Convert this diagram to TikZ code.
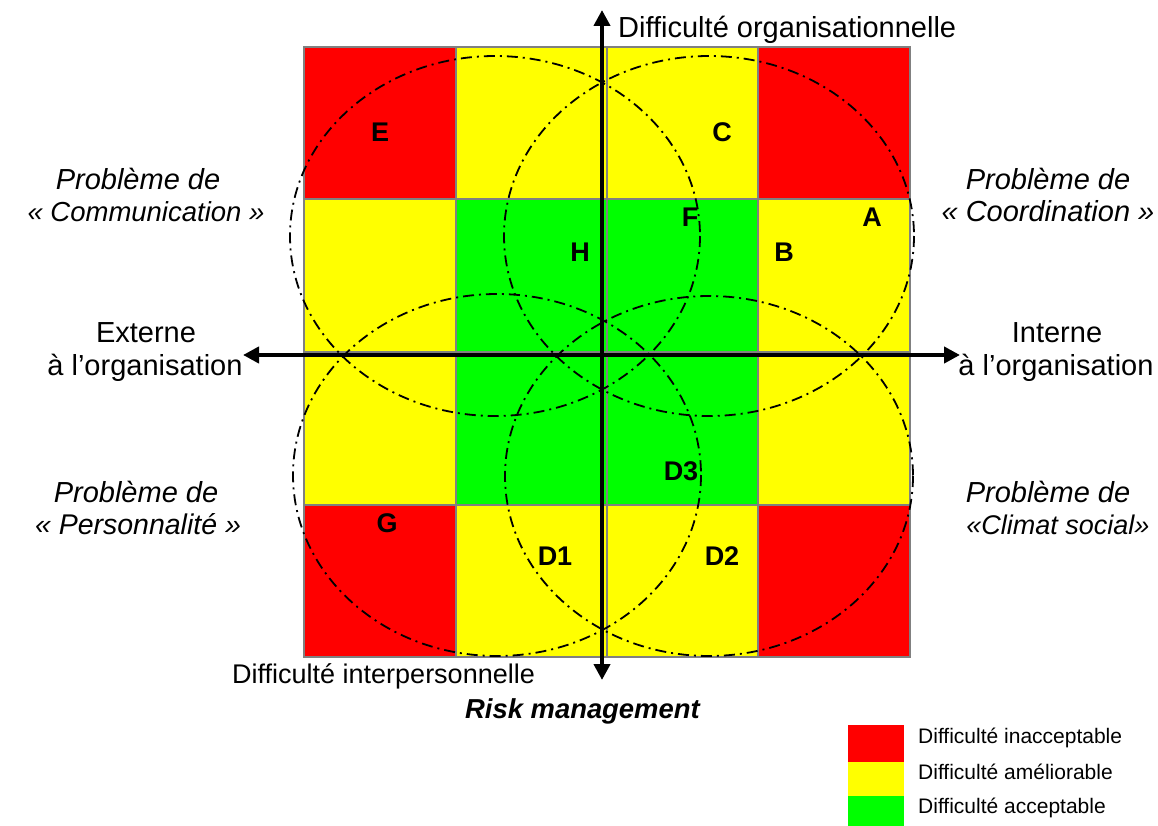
\documentclass[tikz,border=0pt]{standalone}
\usepackage{fontspec}
\setmainfont{Liberation Sans}
\usetikzlibrary{arrows.meta}
\definecolor{cred}{RGB}{255,0,0}
\definecolor{cyel}{RGB}{255,255,0}
\definecolor{cgrn}{RGB}{0,255,0}
\definecolor{gridgray}{RGB}{128,128,128}
\begin{document}
\begin{tikzpicture}[x=1pt,y=-1pt,
  cell/.style={draw=gridgray,line width=2pt},
  zone/.style={line width=1.8pt,dash pattern=on 11pt off 5pt on 2pt off 5pt},
  axis/.style={line width=4pt,{Triangle[length=16pt,width=16pt]}-{Triangle[length=16pt,width=16pt]}},
  lbl/.style={font=\fontsize{29}{33}\selectfont,inner sep=0pt,anchor=base},
  problem/.style={font=\fontsize{29}{33}\selectfont\itshape,inner sep=0pt,anchor=base},
  letter/.style={font=\fontsize{27}{30}\selectfont\bfseries,inner sep=0pt},
  legtext/.style={font=\fontsize{21}{24}\selectfont,inner sep=0pt,anchor=base west}
]
\useasboundingbox (0,0) rectangle (1158,826);

% risk grid: 4 x 4 coloured cells
\foreach \ya/\yb/\ca/\cb/\cc/\cd in {
    47/199/cred/cyel/cyel/cred,
    199/352/cyel/cgrn/cgrn/cyel,
    352/505/cyel/cgrn/cgrn/cyel,
    505/657/cred/cyel/cyel/cred}{
  \filldraw[cell,fill=\ca] (304,\ya) rectangle (456,\yb);
  \filldraw[cell,fill=\cb] (456,\ya) rectangle (607,\yb);
  \filldraw[cell,fill=\cc] (607,\ya) rectangle (758,\yb);
  \filldraw[cell,fill=\cd] (758,\ya) rectangle (910,\yb);
}

% the four problem zones
\draw[zone] (495,236) ellipse [x radius=205, y radius=180];
\draw[zone] (709,236) ellipse [x radius=205, y radius=180];
\draw[zone] (497,475) ellipse [x radius=204, y radius=181];
\draw[zone] (709,476) ellipse [x radius=204, y radius=180];

% axes
\coordinate (vtop) at (602,10);
\coordinate (vbot) at (602,680);
\coordinate (hleft) at (243,355);
\coordinate (hright) at (960,355);
\draw[axis] (vbot) -- (vtop);
\draw[axis] (hleft) -- (hright);

% axis captions
\node[lbl,anchor=base west] (orga) at (618,38) {Difficulté organisationnelle};
\node[lbl,anchor=base west,font=\fontsize{27}{33}\selectfont] (inter) at (232,683) {Difficulté interpersonnelle};
\node[lbl,anchor=base west,font=\fontsize{27.4}{33}\selectfont\bfseries\itshape] (risk) at (465,718) {Risk management};
\node[lbl] (ext1) at (146,342) {Externe};
\node[lbl] (ext2) at (145,375) {à l’organisation};
\node[lbl] (int1) at (1057,342) {Interne};
\node[lbl] (int2) at (1056,375) {à l’organisation};

% quadrant captions
\node[problem] (pc1) at (138,190) {Problème de};
\node[problem,font=\fontsize{27.5}{33}\selectfont\itshape] (pc2) at (146,222) {« Communication »};
\node[problem] (po1) at (1048,190) {Problème de};
\node[problem] (po2) at (1048,222) {« Coordination »};
\node[problem] (pp1) at (136,502) {Problème de};
\node[problem,font=\fontsize{28.5}{33}\selectfont\itshape] (pp2) at (138,534) {« Personnalité »};
\node[problem] (ps1) at (1048,502) {Problème de};
\node[problem,font=\fontsize{27}{33}\selectfont\itshape] (ps2) at (1058,534) {«Climat social»};

% case letters
\node[letter] (E) at (380,132) {E};
\node[letter] (C) at (722,132) {C};
\node[letter] (F) at (690,217) {F};
\node[letter] (A) at (872,217) {A};
\node[letter] (H) at (580,252) {H};
\node[letter] (B) at (784,252) {B};
\node[letter] (D3) at (681,471) {D3};
\node[letter] (G) at (387,523) {G};
\node[letter] (D1) at (555,556) {D1};
\node[letter] (D2) at (722,556) {D2};

% legend
\fill[cred] (848,725) rectangle (904,762);
\fill[cyel] (848,762) rectangle (904,796);
\fill[cgrn] (848,796) rectangle (904,826);
\node[legtext] (l1) at (918,743) {Difficulté inacceptable};
\node[legtext] (l2) at (918,779) {Difficulté améliorable};
\node[legtext] (l3) at (918,813) {Difficulté acceptable};
\end{tikzpicture}
\end{document}
